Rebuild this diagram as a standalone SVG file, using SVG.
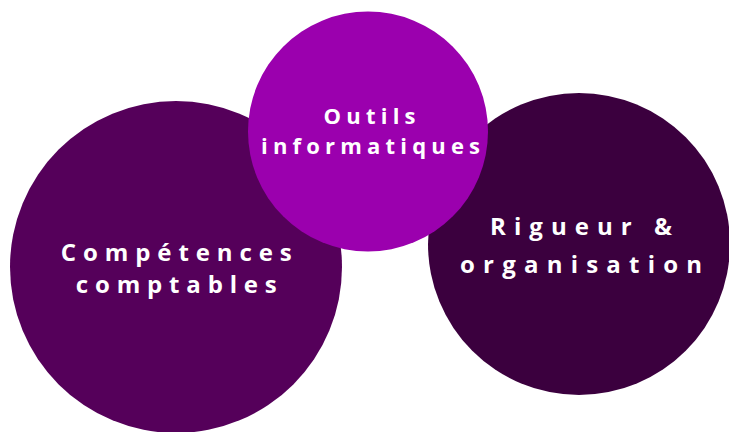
<svg xmlns="http://www.w3.org/2000/svg" width="729" height="432" viewBox="0 0 729 432">
  <style>
    .lbl { font-family: "Open Sans", Lato, "Liberation Sans", sans-serif; font-weight: 700; fill: #ffffff; text-anchor: middle; font-variant-ligatures: none; }
  </style>
  <rect width="729" height="432" fill="#ffffff"/>
  <g id="node-competences">
    <circle cx="176" cy="267" r="166" fill="#55005a"/>
    <text class="lbl" font-size="24" x="176.3" y="260.5" textLength="231" lengthAdjust="spacing">Compétences</text>
    <text class="lbl" font-size="24" x="176.3" y="293" textLength="201" lengthAdjust="spacing">comptables</text>
  </g>
  <g id="node-rigueur">
    <circle cx="579" cy="244" r="151" fill="#3b003e"/>
    <text class="lbl" font-size="24" x="581" y="235" textLength="182" lengthAdjust="spacing">Rigueur &amp;</text>
    <text class="lbl" font-size="24" x="581" y="273" textLength="242" lengthAdjust="spacing">organisation</text>
  </g>
  <g id="node-outils">
    <circle cx="368" cy="131.5" r="120" fill="#9b00ae"/>
    <text class="lbl" font-size="22" x="369.5" y="123.5" textLength="92" lengthAdjust="spacing">Outils</text>
    <text class="lbl" font-size="22" x="370.5" y="153.5" textLength="219" lengthAdjust="spacing">informatiques</text>
  </g>
  <g id="connectors"/>
</svg>
